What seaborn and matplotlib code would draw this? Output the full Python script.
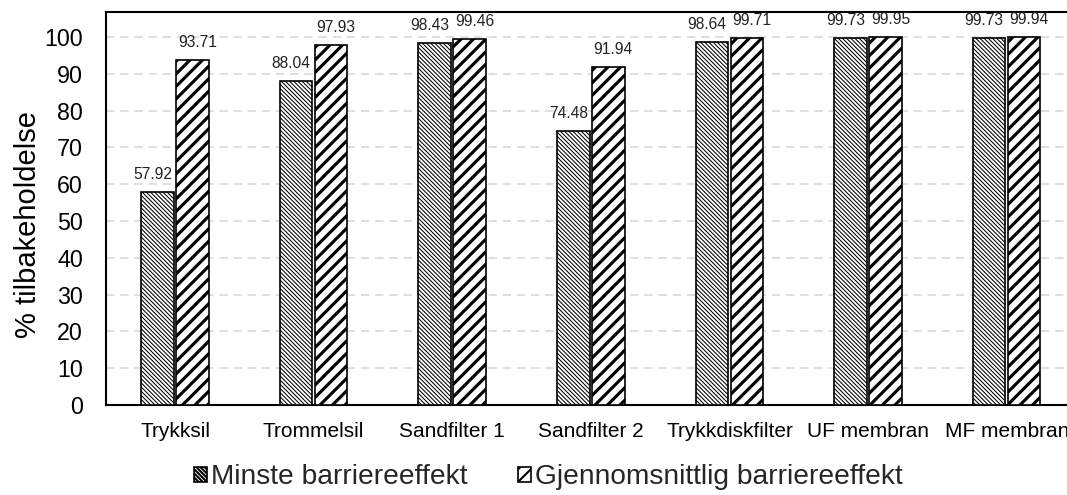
import matplotlib
matplotlib.use("Agg")
import matplotlib.pyplot as plt
from matplotlib.patches import Patch
import pandas as pd
import seaborn as sns

# Filter types and their retention values (%)
kategorier = ["Trykksil", "Trommelsil", "Sandfilter 1", "Sandfilter 2",
              "Trykkdiskfilter", "UF membran", "MF membran"]
minste = [57.92, 88.04, 98.43, 74.48, 98.64, 99.73, 99.73]
snitt = [93.71, 97.93, 99.46, 91.94, 99.71, 99.95, 99.94]
serier = ["Minste barriereeffekt", "Gjennomsnittlig barriereeffekt"]
yticks = [0, 10, 20, 30, 40, 50, 60, 70, 80, 90, 100]

df = pd.DataFrame({
    "kategori": kategorier * 2,
    "verdi": minste + snitt,
    "serie": [serier[0]] * len(kategorier) + [serier[1]] * len(kategorier),
})

sns.set_theme(style="white")
plt.rcParams["font.family"] = ["Liberation Sans", "DejaVu Sans"]

DPI = 150
fig = plt.figure(figsize=(1067 / DPI, 495 / DPI), dpi=DPI)
ax = fig.add_axes([105.7 / 1067, 1 - 405 / 495, (1076 - 105.7) / 1067, (405 - 12) / 495])

sns.barplot(data=df, x="kategori", y="verdi", hue="serie", hue_order=serier,
            order=kategorier, width=0.505, gap=0.07, dodge=True,
            palette=["white", "white"], edgecolor="black", linewidth=0.8,
            legend=False, ax=ax, zorder=3)

# fine back-diagonal for the minimum, bold forward diagonal for the average
hatches = ["\\" * 12, "////"]
hatch_lw = [0.5, 1.5]
label_dx = [-2.4, 2.4]
for cont, h, lw, dx in zip(ax.containers, hatches, hatch_lw, label_dx):
    for p in cont:
        p.set_hatch(h)
        p.set_facecolor("white")
        p.set_edgecolor("black")
        if hasattr(p, "set_hatch_linewidth"):
            p.set_hatch_linewidth(lw)
    anns = ax.bar_label(cont, fmt="%.2f", padding=4.8, fontsize=7.5, color="#222222")
    for a in anns:
        a.xyann = (dx, 4.8)

ax.set_ylim(0, 106.8)
ax.set_xlim(-0.5, len(kategorier) - 0.5)
ax.set_yticks(yticks)
ax.yaxis.grid(True, color="#d9d9d9", linestyle=(0, (5, 3.5)), linewidth=0.8, zorder=0)
ax.set_axisbelow(True)
for g in ax.get_ygridlines()[:1]:
    g.set_visible(False)

for s in ["left", "bottom", "top", "right"]:
    ax.spines[s].set_visible(True)
    ax.spines[s].set_color("black")
    ax.spines[s].set_linewidth(1.0)

ax.tick_params(axis="y", length=0, pad=11, labelsize=11.2, labelcolor="black")
ax.tick_params(axis="x", length=0, pad=8, labelsize=10, labelcolor="black")
ax.set_xlabel("")
ax.set_ylabel("% tilbakeholdelse", fontsize=14, color="black")
ax.yaxis.set_label_coords(-0.066, 0.46)

handles = []
for h, lw in zip(hatches, hatch_lw):
    hp = Patch(facecolor="white", edgecolor="black", hatch=h, linewidth=0.8)
    if hasattr(hp, "set_hatch_linewidth"):
        hp.set_hatch_linewidth(lw)
    handles.append(hp)
fig.legend(handles, serier, loc="center", bbox_to_anchor=(0.514, 0.036), ncol=2,
           frameon=False, fontsize=13.5, handlelength=0.45, handleheight=0.45,
           handletextpad=0.15, columnspacing=1.8, borderpad=0, borderaxespad=0)

fig.savefig("out.png", dpi=DPI)
